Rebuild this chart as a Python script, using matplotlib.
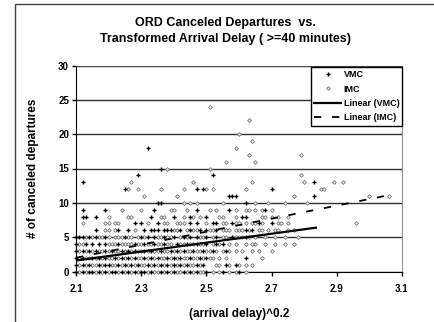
import numpy as np
import matplotlib
matplotlib.use('Agg')
import matplotlib.pyplot as plt
from matplotlib.patches import Rectangle

plt.rcParams['font.family'] = ['Liberation Sans', 'DejaVu Sans']
plt.rcParams['font.weight'] = 'bold'

# Canceled departures (count) per level -> transformed arrival delay values
levels = [0, 1, 2, 3, 4, 5, 6, 7, 8, 9, 10, 11, 12, 13, 14, 15, 16, 17, 18, 19, 20, 22, 24]

vmc_rows = [
    [2.10, 2.12, 2.14, 2.15, 2.17, 2.19, 2.21, 2.22, 2.24, 2.26, 2.28, 2.30, 2.31, 2.33, 2.36, 2.38, 2.40, 2.43, 2.45, 2.47, 2.50, 2.55, 2.60],
    [2.10, 2.12, 2.14, 2.17, 2.19, 2.20, 2.23, 2.25, 2.27, 2.29, 2.32, 2.34, 2.36, 2.38, 2.40, 2.42, 2.44, 2.47, 2.49, 2.56, 2.59],
    [2.10, 2.12, 2.15, 2.17, 2.19, 2.22, 2.24, 2.26, 2.28, 2.31, 2.33, 2.35, 2.38, 2.40, 2.42, 2.45, 2.48, 2.50, 2.62],
    [2.10, 2.12, 2.14, 2.16, 2.19, 2.21, 2.24, 2.26, 2.28, 2.31, 2.33, 2.36, 2.39, 2.41, 2.43, 2.46, 2.49, 2.52, 2.56],
    [2.10, 2.13, 2.15, 2.17, 2.19, 2.23, 2.28, 2.31, 2.34, 2.37, 2.41, 2.44, 2.47, 2.50, 2.53, 2.55],
    [2.10, 2.11, 2.12, 2.14, 2.16, 2.19, 2.25, 2.30, 2.32, 2.34, 2.37, 2.40, 2.43, 2.45, 2.47, 2.50, 2.53, 2.58, 2.62],
    [2.16, 2.23, 2.26, 2.31, 2.33, 2.34, 2.35, 2.37, 2.38, 2.39, 2.42, 2.45, 2.48, 2.50, 2.53, 2.62, 2.64],
    [2.28, 2.30, 2.35, 2.45, 2.47, 2.52, 2.53, 2.58, 2.66, 2.70],
    [2.12, 2.13, 2.16, 2.33, 2.40, 2.45, 2.50, 2.61, 2.62],
    [2.12, 2.19, 2.34, 2.47, 2.57, 2.68],
    [2.35, 2.36, 2.62],
    [2.57, 2.58, 2.59, 2.83],
    [2.25, 2.47, 2.49, 2.70],
    [2.12, 2.83],
    [2.29, 2.52],
    [2.36],
    [],
    [],
    [2.32],
    [],
    [],
    [],
    [],
]

imc_rows = [
    [2.11, 2.13, 2.16, 2.18, 2.20, 2.23, 2.25, 2.27, 2.29, 2.32, 2.34, 2.35, 2.37, 2.39, 2.41, 2.42, 2.44, 2.46, 2.48, 2.49, 2.52, 2.54, 2.57, 2.59, 2.62],
    [2.11, 2.13, 2.15, 2.16, 2.18, 2.21, 2.22, 2.24, 2.26, 2.28, 2.30, 2.31, 2.33, 2.35, 2.37, 2.39, 2.41, 2.43, 2.45, 2.46, 2.48, 2.53, 2.54, 2.57, 2.60, 2.62, 2.64],
    [2.11, 2.13, 2.14, 2.16, 2.18, 2.20, 2.21, 2.23, 2.25, 2.27, 2.29, 2.30, 2.32, 2.34, 2.36, 2.37, 2.39, 2.41, 2.43, 2.44, 2.46, 2.47, 2.49, 2.51, 2.52, 2.54, 2.56, 2.67],
    [2.11, 2.13, 2.15, 2.17, 2.18, 2.20, 2.22, 2.23, 2.25, 2.27, 2.29, 2.30, 2.32, 2.34, 2.35, 2.37, 2.38, 2.40, 2.42, 2.44, 2.45, 2.47, 2.48, 2.50, 2.51, 2.53, 2.55, 2.57, 2.59, 2.61, 2.64, 2.66, 2.70],
    [2.11, 2.12, 2.20, 2.21, 2.22, 2.24, 2.25, 2.26, 2.27, 2.29, 2.30, 2.32, 2.33, 2.35, 2.36, 2.38, 2.39, 2.42, 2.43, 2.45, 2.46, 2.48, 2.49, 2.52, 2.54, 2.57, 2.59, 2.62, 2.64, 2.65, 2.68, 2.71, 2.74, 2.77],
    [2.13, 2.15, 2.17, 2.18, 2.20, 2.22, 2.23, 2.24, 2.26, 2.27, 2.29, 2.31, 2.35, 2.36, 2.38, 2.39, 2.42, 2.44, 2.48, 2.49, 2.52, 2.55, 2.56, 2.59, 2.60, 2.61, 2.63, 2.65, 2.68, 2.71, 2.74, 2.78],
    [2.19, 2.20, 2.22, 2.28, 2.40, 2.41, 2.44, 2.46, 2.47, 2.51, 2.52, 2.55, 2.56, 2.57, 2.59, 2.60, 2.61, 2.63, 2.66, 2.67, 2.69, 2.71, 2.72, 2.75, 2.77],
    [2.12, 2.19, 2.20, 2.22, 2.23, 2.32, 2.37, 2.38, 2.41, 2.42, 2.43, 2.50, 2.55, 2.56, 2.59, 2.60, 2.62, 2.64, 2.65, 2.67, 2.72, 2.73, 2.75, 2.96],
    [2.20, 2.26, 2.27, 2.36, 2.37, 2.43, 2.46, 2.48, 2.54, 2.55, 2.59, 2.67, 2.68, 2.70, 2.72, 2.75],
    [2.24, 2.30, 2.39, 2.40, 2.44, 2.51, 2.53, 2.59, 2.62, 2.63, 2.65, 2.67, 2.70],
    [2.43, 2.45, 2.47, 2.55, 2.65, 2.69, 2.74, 2.81],
    [2.31, 2.41, 2.77, 3.00, 3.06],
    [2.26, 2.29, 2.36, 2.43, 2.50, 2.52, 2.62, 2.85, 2.86],
    [2.27, 2.46, 2.64, 2.80, 2.89, 2.92],
    [2.79],
    [2.38, 2.51],
    [2.56, 2.65],
    [2.63, 2.79],
    [2.59],
    [2.64],
    [2.60],
    [2.63],
    [2.51],
]

# Linear trend lines: start value, slope, x range
vmc_fit = {'x0': 2.1, 'x1': 2.836, 'y0': 1.6, 'slope': 6.5}
imc_fit = {'x0': 2.1, 'x1': 3.06, 'y0': 2.0, 'slope': 9.5}

vmc_x = [x for row in vmc_rows for x in row]
vmc_y = [lv for lv, row in zip(levels, vmc_rows) for x in row]
imc_x = [x for row in imc_rows for x in row]
imc_y = [lv for lv, row in zip(levels, imc_rows) for x in row]

W, H = 434, 322
fig = plt.figure(figsize=(W / 100, H / 100), dpi=100)
ax = fig.add_axes([76 / W, 1 - 271.5 / H, 326 / W, 206 / H])

# outer chart border (top-left corner visible only)
fig.add_artist(Rectangle((15 / W, -0.1), 1.2, 1 - 4 / H + 0.1, transform=fig.transFigure,
                         fill=False, edgecolor='#404040', linewidth=1.0))

ax.set_xlim(2.1, 3.1)
ax.set_ylim(0, 30)
ax.set_yticks(np.arange(0, 31, 5))
ax.set_xticks([2.1, 2.3, 2.5, 2.7, 2.9, 3.1])
ax.set_xticklabels(['2.1', '2.3', '2.5', '2.7', '2.9', '3.1'])
ax.yaxis.grid(True, color='#303030', linewidth=1.0)
ax.set_axisbelow(True)
ax.tick_params(labelsize=7, length=3, width=1, colors='black', pad=2)
ax.tick_params(axis='x', pad=6)
for lab in ax.get_xticklabels() + ax.get_yticklabels():
    lab.set_fontweight('bold')

ax.spines['left'].set_color('black')
ax.spines['bottom'].set_color('black')
ax.spines['right'].set_color('#909090')
ax.spines['top'].set_color('#505050')

ax.plot(imc_x, imc_y, linestyle='none', marker='D', markersize=1.9, markerfacecolor='white',
        markeredgecolor='#707070', markeredgewidth=0.6, label='IMC', clip_on=False, zorder=3)
ax.plot(vmc_x, vmc_y, linestyle='none', marker='+', markersize=3, color='black',
        markeredgewidth=1.0, label='VMC', clip_on=False, zorder=4)

xv = np.array([vmc_fit['x0'], vmc_fit['x1']])
ax.plot(xv, vmc_fit['y0'] + vmc_fit['slope'] * (xv - vmc_fit['x0']), color='black',
        linewidth=1.6, label='Linear (VMC)', zorder=5)
xi = np.array([imc_fit['x0'], imc_fit['x1']])
ax.plot(xi, imc_fit['y0'] + imc_fit['slope'] * (xi - imc_fit['x0']), color='black',
        linewidth=1.3, linestyle=(0, (4, 6)), label='Linear (IMC)', zorder=5)

handles, labels = ax.get_legend_handles_labels()
order = [1, 0, 2, 3]
leg = fig.legend([handles[i] for i in order], [labels[i] for i in order],
                 loc='upper left', bbox_to_anchor=(311 / W, 1 - 67 / H), borderaxespad=0,
                 frameon=True, fancybox=False, edgecolor='black', framealpha=1, borderpad=0.35,
                 handlelength=3.0, handletextpad=0.25, labelspacing=0.6,
                 prop={'size': 6.5, 'weight': 'bold'})
leg.get_frame().set_linewidth(1.0)

fig.text(225 / W, 1 - 31 / H, 'ORD Canceled Departures  vs.\nTransformed Arrival Delay ( >=40 minutes)',
         ha='center', va='center', fontsize=9, fontweight='bold', linespacing=1.45)
ax.set_xlabel('(arrival delay)^0.2', fontsize=8.5, fontweight='bold', labelpad=10)
ax.set_ylabel('# of canceled departures', fontsize=8.5, fontweight='bold', labelpad=14)

fig.savefig('out.png', dpi=100)
